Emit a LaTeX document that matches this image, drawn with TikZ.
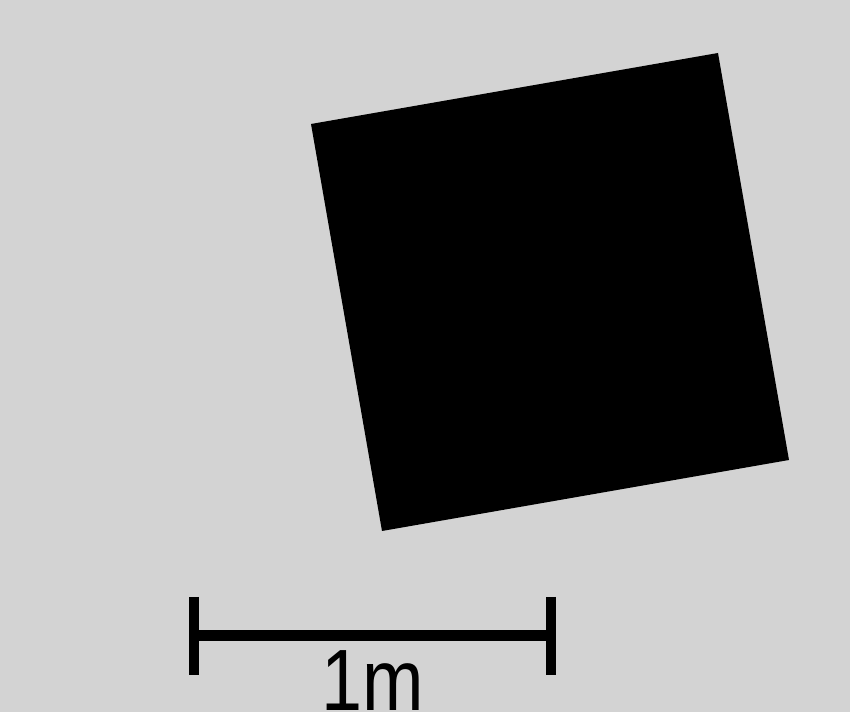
\documentclass[tikz,border=0pt]{standalone}
\usepackage{fontspec}
\usepackage{xcolor}
\usepackage{tikz}
\newfontfamily\barfont{Liberation Sans}
\definecolor{BgGray}{HTML}{D3D3D3}
\tikzset{
  blockfill/.style={fill=black,draw=none},
  barline/.style={line width=0.22cm,draw=black,line cap=butt},
  bartick/.style={line width=0.20cm,draw=black,line cap=butt},
  barlabel/.style={font=\fontsize{42}{50}\selectfont\barfont,inner sep=0pt,anchor=base,yscale=1.18},
}
\begin{document}
\begin{tikzpicture}[x=0.02cm,y=-0.02cm]
  \fill[BgGray] (0,0) rectangle (850,712);
  \useasboundingbox (0,0) rectangle (850,712);
  % rotated block
  \fill[blockfill] (311,124) -- (718,53) -- (789,460) -- (382,531) -- cycle;
  % scale bar
  \coordinate (barL) at (194,636);
  \coordinate (barR) at (551,636);
  \draw[barline] (barL) -- (barR);
  \draw[bartick] (194,597) -- (194,675);
  \draw[bartick] (551,597) -- (551,675);
  \node[barlabel] (barText) at (372.8,711) {1m};
\end{tikzpicture}
\end{document}
